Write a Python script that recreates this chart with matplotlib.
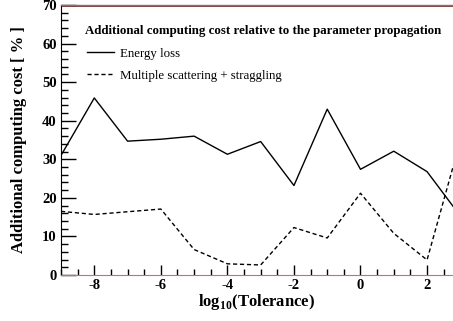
import numpy as np
import matplotlib.pyplot as plt
from matplotlib.ticker import MultipleLocator

plt.rcParams['font.family'] = ['Liberation Serif', 'DejaVu Serif']
plt.rcParams['mathtext.fontset'] = 'custom'
plt.rcParams['mathtext.bf'] = 'Liberation Serif:bold'
plt.rcParams['mathtext.rm'] = 'Liberation Serif:bold'
plt.rcParams['axes.unicode_minus'] = False

log_tol = [-9, -8, -7, -6, -5, -4, -3, -2, -1, 0, 1, 2, 3]
energy_loss = [31, 45.9, 34.7, 35.2, 36.0, 31.3, 34.6, 23.2, 43.0, 27.4, 32.1, 26.8, 15.3]
ms_straggling = [16.5, 15.7, 16.4, 17.1, 6.6, 2.9, 2.6, 12.3, 9.6, 21.2, 10.8, 3.9, 34.8]

fig = plt.figure(figsize=(4.53, 3.21), dpi=100)
ax = fig.add_axes([0.1347, 0.1433, 0.8653, 0.8411])

ax.plot(log_tol, energy_loss, color='black', lw=1.0, label='Energy loss')
ax.plot(log_tol, ms_straggling, color='black', lw=1.0, ls=(0, (3, 2)),
        label='Multiple scattering + straggling')

ax.set_xlim(-9, 2.78)
ax.set_ylim(0, 70)

ax.xaxis.set_major_locator(MultipleLocator(2))
ax.xaxis.set_minor_locator(MultipleLocator(0.5))
ax.yaxis.set_major_locator(MultipleLocator(10))
ax.yaxis.set_minor_locator(MultipleLocator(2))
ax.tick_params(which='both', direction='in', top=False, right=False)
ax.tick_params(axis='y', which='major', length=11, width=1)
ax.tick_params(axis='y', which='minor', length=5, width=1)
ax.tick_params(axis='x', which='major', length=7, width=1)
ax.tick_params(axis='x', which='minor', length=4, width=1)
ax.tick_params(axis='both', labelsize=10.5, pad=3)
for lab in ax.get_xticklabels() + ax.get_yticklabels():
    lab.set_fontweight('bold')

ax.spines['right'].set_visible(False)
ax.spines['bottom'].set_color('#e86060')
ax.spines['top'].set_color('#777777')
ax.spines['top'].set_linewidth(1.0)
ax.axhline(69.75, color='#7a2020', lw=0.6, clip_on=False)

ax.set_xlabel(r'log$_{\mathbf{10}}$(Tolerance)', fontsize=12, fontweight='bold', labelpad=0)
ax.set_ylabel('Additional computing cost [ % ]', fontsize=12, fontweight='bold', labelpad=1)
ax.yaxis.set_label_coords(-0.088, 0.5)

ax.text(0.062, 0.905, 'Additional computing cost relative to the parameter propagation',
        transform=ax.transAxes, fontsize=9.3, fontweight='bold', va='center')
ax.legend(loc='upper left', bbox_to_anchor=(0.052, 0.86), frameon=False, fontsize=9.3,
          handlelength=2.1, handletextpad=0.45, labelspacing=0.75, borderaxespad=0)

fig.savefig('out.png', dpi=100)
